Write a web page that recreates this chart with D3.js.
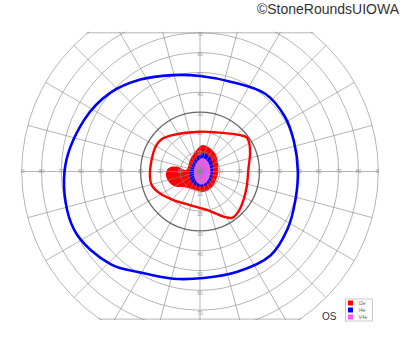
<!DOCTYPE html>
<html>
<head>
<meta charset="utf-8">
<script src="https://cdn.jsdelivr.net/npm/d3@7"></script>
<style>
  body { margin: 0; background: #fff; }
  svg { display: block; font-family: "Liberation Sans", Arial, sans-serif; }
</style>
</head>
<body>
<div id="chart"></div>
<script>
// Grid ticks (degrees of eccentricity / meridians)
const RINGS = [10, 20, 30, 40, 50, 60, 70, 80, 90];
const H_LABELS = [10, 20, 30, 40, 50, 60, 70, 80, 90];
const V_LABELS = [10, 20, 30, 40, 50, 60, 70];
const MERIDIANS = [0, 15, 30, 45, 60, 75, 90, 105, 120, 135, 150, 165,
                   180, 195, 210, 225, 240, 255, 270, 285, 300, 315, 330, 345];
const DARK_RING = 30;

// Isopters: [meridian angle (deg, ccw from right), eccentricity (deg)]
const I4E_LINE = [[0, 49.4], [18, 49.8], [33, 51], [50, 51.2], [70, 48], [90, 48.2],
                  [106, 50.6], [123, 55.3], [139, 60.3], [156, 64], [180, 68.4],
                  [205, 70], [226, 65], [240, 59], [256, 55.8],
                  [272, 53.8], [290, 54], [310, 55.3], [327, 52.8], [343, 50.3]];
const I2E_LINE = [[2, 24.4], [20, 26.9], [30, 28.7], [36, 29.2], [42, 27.4], [63, 22], [90, 20.1],
                  [126, 22.8], [140, 25.3], [150, 25.7], [167, 25.1], [186, 25.4], [196, 25.3],
                  [209, 23], [227, 19.7], [253, 17.7], [280, 19.7], [298, 25.9], [305, 28.5],
                  [314, 28], [327, 26.2], [342, 24.8]];
const I2E_AREA = [[5, 9.3], [50, 11.9], [84, 13.5], [104, 10.3], [131, 7.7], [173, 7.0],
                  [168, 12], [174, 16.1], [186, 17.3], [199, 16.5], [211, 14.7], [223, 11.5],
                  [250, 9.7], [279, 10.5], [306, 10], [338, 9.1]];
const I4E_AREA = [[7, 6.6], [49, 8.4], [78, 9.6], [97, 7.9], [130, 5.6], [183, 5.1],
                  [227, 6.6], [262, 7.6], [294, 7.5], [327, 6.9]];
const V4E_AREA = [[3, 5.3], [50, 6.3], [78, 7], [101, 5.4], [132, 3.8], [203, 3.3],
                  [247, 5.2], [274, 6.6], [299, 6.3], [330, 5.5]];

const LEGEND_NAMES = ['I2e', 'I4e', 'V4e'];
const LEGEND_COLORS = ['#ff0000', '#0000ff', '#ff55ff'];

// Layout
const WIDTH = 400, HEIGHT = 352;
const CX = 200, CY = 171.5, R_MAX = 178.3;
const FIELD_TOP = 70, FIELD_BOTTOM = 74.5;

const svg = d3.select('#chart').append('svg')
  .attr('width', WIDTH)
  .attr('height', HEIGHT);

// eccentricity -> pixel radius
const rScale = d3.scaleLinear().domain([0, 90]).range([0, R_MAX]);

const toXY = d => {
  const a = d[0] * Math.PI / 180;
  return [CX + rScale(d[1]) * Math.cos(a), CY - rScale(d[1]) * Math.sin(a)];
};
const shape = d3.line().curve(d3.curveCatmullRomClosed.alpha(0.5));

// Clip to the field outline (circle cut top and bottom)
const defs = svg.append('defs');
defs.append('clipPath').attr('id', 'clip-circle')
  .append('circle').attr('cx', CX).attr('cy', CY).attr('r', R_MAX + 1);
defs.append('clipPath').attr('id', 'clip-rect')
  .append('rect')
  .attr('x', 0).attr('y', CY - rScale(FIELD_TOP) - 1)
  .attr('width', WIDTH).attr('height', rScale(FIELD_TOP) + rScale(FIELD_BOTTOM) + 2);

const plot = svg.append('g').attr('clip-path', 'url(#clip-rect)')
  .append('g').attr('clip-path', 'url(#clip-circle)');

// Filled central areas
[[I2E_AREA, LEGEND_COLORS[0]], [I4E_AREA, LEGEND_COLORS[1]], [V4E_AREA, LEGEND_COLORS[2]]]
  .forEach(([pts, col]) => {
    plot.append('path')
      .attr('d', shape(pts.map(toXY)))
      .attr('fill', col);
  });

// Grid
const grid = plot.append('g')
  .attr('fill', 'none')
  .attr('stroke', '#888')
  .attr('stroke-opacity', 0.62)
  .attr('stroke-width', 1);

grid.selectAll('.spoke')
  .data(MERIDIANS)
  .join('line')
  .attr('x1', CX).attr('y1', CY)
  .attr('x2', a => toXY([a, 90])[0])
  .attr('y2', a => toXY([a, 90])[1]);

grid.selectAll('.ring')
  .data(RINGS.filter(r => r !== DARK_RING))
  .join('circle')
  .attr('cx', CX).attr('cy', CY)
  .attr('r', d => rScale(d));

// Field edge (top and bottom cuts)
grid.append('rect')
  .attr('x', CX - R_MAX - 5)
  .attr('y', CY - rScale(FIELD_TOP))
  .attr('width', 2 * R_MAX + 10)
  .attr('height', rScale(FIELD_TOP) + rScale(FIELD_BOTTOM));

plot.append('circle')
  .attr('cx', CX).attr('cy', CY)
  .attr('r', rScale(DARK_RING))
  .attr('fill', 'none')
  .attr('stroke', '#444')
  .attr('stroke-opacity', 0.8)
  .attr('stroke-width', 1.3);

// Axis labels
const labels = plot.append('g')
  .attr('font-size', 5)
  .attr('fill', '#999')
  .attr('text-anchor', 'middle')
  .attr('dominant-baseline', 'central');

H_LABELS.forEach(v => {
  labels.append('text').attr('x', CX - rScale(v)).attr('y', CY - 1).text(v);
  labels.append('text').attr('x', CX + rScale(v)).attr('y', CY - 1).text(v);
});
V_LABELS.forEach(v => {
  labels.append('text').attr('x', CX).attr('y', CY - rScale(v) + 1.5).text(v);
  labels.append('text').attr('x', CX).attr('y', CY + rScale(v) + 3).text(v);
});

// Isopter lines
plot.append('path')
  .attr('d', shape(I2E_LINE.map(toXY)))
  .attr('fill', 'none')
  .attr('stroke', LEGEND_COLORS[0])
  .attr('stroke-width', 2.4);

plot.append('path')
  .attr('d', shape(I4E_LINE.map(toXY)))
  .attr('fill', 'none')
  .attr('stroke', LEGEND_COLORS[1])
  .attr('stroke-width', 2.6);

// Eye label
svg.append('text')
  .attr('x', 322).attr('y', 320)
  .attr('font-size', 10)
  .attr('fill', '#333')
  .text('OS');

// Legend
const legend = svg.append('g').attr('transform', 'translate(345.5, 299)');
legend.append('rect')
  .attr('width', 27).attr('height', 22)
  .attr('fill', '#fff')
  .attr('stroke', '#bbb')
  .attr('stroke-width', 0.8);

const item = legend.selectAll('.item')
  .data(LEGEND_NAMES)
  .join('g')
  .attr('transform', (d, i) => `translate(2.5, ${1.5 + i * 7})`);
item.append('rect')
  .attr('width', 5).attr('height', 5)
  .attr('fill', (d, i) => LEGEND_COLORS[i]);
item.append('text')
  .attr('x', 10.5).attr('y', 2.7)
  .attr('dominant-baseline', 'central')
  .attr('font-size', 5)
  .attr('fill', '#666')
  .text(d => d);

// Copyright
svg.append('text')
  .attr('x', 399).attr('y', 13.5)
  .attr('text-anchor', 'end')
  .attr('font-size', 14)
  .attr('fill', '#333')
  .text('\u00a9StoneRoundsUIOWA');
</script>
</body>
</html>
